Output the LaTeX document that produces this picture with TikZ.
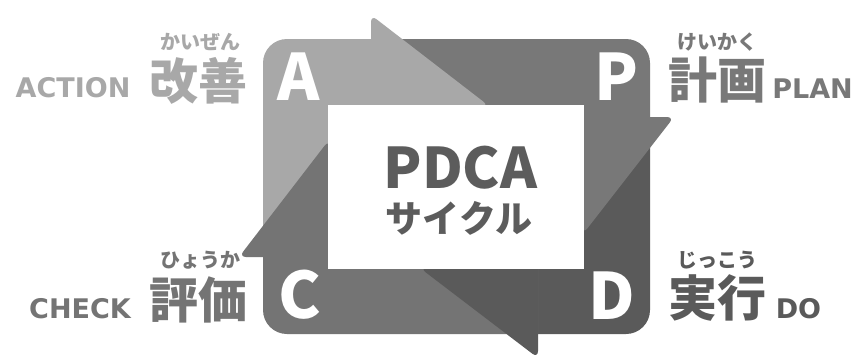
\documentclass[tikz,border=0pt]{standalone}
\usepackage{fontspec}
\newfontfamily\jp{Noto Sans CJK JP}
\newfontfamily\lat{DejaVu Sans}
\definecolor{colA}{HTML}{A8A8A8}
\definecolor{colP}{HTML}{787878}
\definecolor{colD}{HTML}{5A5A5A}
\definecolor{colC}{HTML}{747474}
\definecolor{colT}{HTML}{5C5C5C}
\tikzset{
  lbl/.style={inner sep=0pt, font=\lat\bfseries\fontsize{27}{27}\selectfont},
  kanji/.style={inner sep=0pt, font=\jp\bfseries\fontsize{49}{49}\selectfont},
  ruby/.style={inner sep=0pt, font=\jp\bfseries\fontsize{20}{20}\selectfont},
  big/.style={inner sep=0pt, text=white, font=\jp\bfseries\fontsize{64}{64}\selectfont},
  head/.style={rounded corners=7pt},
}
\begin{document}
\begin{tikzpicture}[x=1pt,y=-1pt]
\useasboundingbox (0,0) rectangle (853,354);
\fill[white] (0,0) rectangle (853,354);
% bodies
\begin{scope}
  \clip (0,0) rectangle (371,257);
  \fill[colA, rounded corners=24pt] (263,39) rectangle (650,334);
\end{scope}
\begin{scope}
  \clip (371,0) rectangle (853,117);
  \fill[colP, rounded corners=24pt] (263,39) rectangle (650,334);
\end{scope}
\begin{scope}
  \clip (538,117) rectangle (853,360);
  \fill[colD, rounded corners=24pt] (263,39) rectangle (650,334);
\end{scope}
\begin{scope}
  \clip (0,257) rectangle (538,360);
  \fill[colC, rounded corners=24pt] (263,39) rectangle (650,334);
\end{scope}
% heads
\fill[colA, head] (371,15) -- (489,106) -- (400,106) -- (371,140) -- cycle;
\fill[colP, head] (674,117) -- (583,234) -- (583,146) -- (550,117) -- cycle;
\fill[colD, head] (538,358) -- (420,268) -- (509,268) -- (538,234) -- cycle;
\fill[colC, head] (239,257) -- (329,140) -- (329,228) -- (362,257) -- cycle;
% centre
\fill[white] (328,105) rectangle (584,269);
\node[inner sep=0pt, text=colT, font=\jp\bfseries\fontsize{56}{56}\selectfont] (pdca) at (460.5,167.5) {PDCA};
\node[inner sep=0pt, text=colT, font=\jp\bfseries\fontsize{37}{37}\selectfont] (cycle) at (459,218) {サイクル};
% big letters
\node[big] (A) at (298.5,76.5) {A};
\node[big] (P) at (616,76.5) {P};
\node[big] (C) at (300,295) {C};
\node[big] (D) at (611.5,296) {D};
% labels
\node[lbl, text=colA, anchor=base] (action) at (73,97) {ACTION};
\node[kanji, text=colA] (kaizen) at (198.5,80.5) {改善};
\node[ruby, text=colA] (kaizenr) at (200,41.5) {かいぜん};
\node[lbl, text=colP, anchor=base] (plan) at (812.5,98) {PLAN};
\node[kanji, text=colP] (keikaku) at (717.5,80) {計画};
\node[ruby, text=colP] (keikakur) at (717.5,42.5) {けいかく};
\node[lbl, text=colC, anchor=base] (check) at (80,318) {CHECK};
\node[kanji, text=colC] (hyouka) at (198.5,299.5) {評価};
\node[ruby, text=colC] (hyoukar) at (200,260.5) {ひょうか};
\node[lbl, text=colD, anchor=base] (do) at (798.5,318) {DO};
\node[kanji, text=colD] (jikkou) at (717.5,297.5) {実行};
\node[ruby, text=colD] (jikkour) at (717.5,260) {じっこう};
\end{tikzpicture}
\end{document}
